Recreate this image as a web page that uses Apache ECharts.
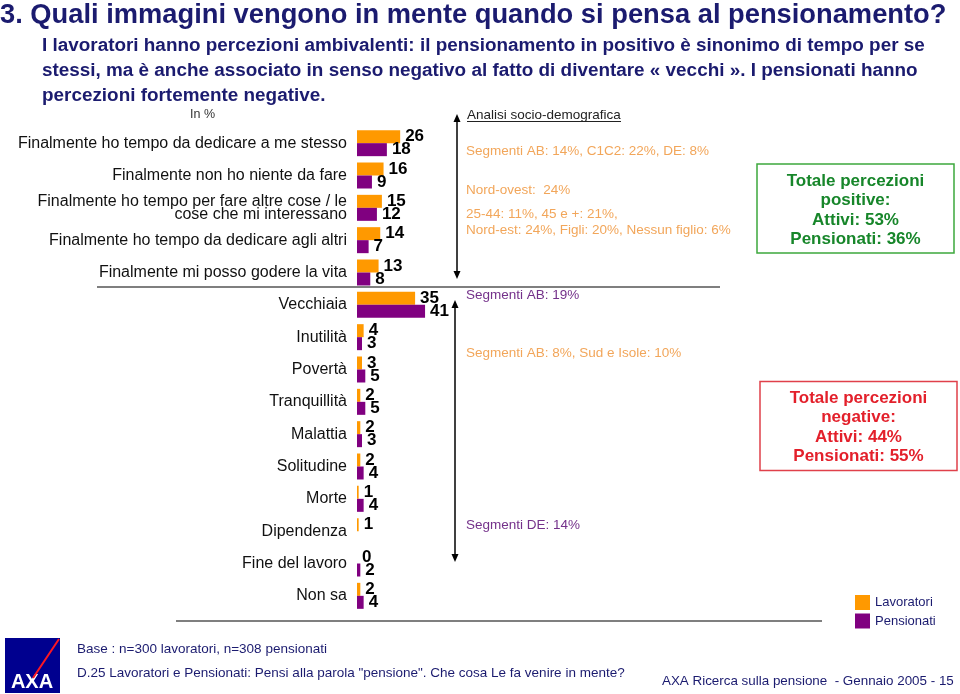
<!DOCTYPE html>
<html>
<head>
<meta charset="utf-8">
<script src="https://cdn.jsdelivr.net/npm/echarts@6/dist/echarts.min.js"></script>
<style>
html,body{margin:0;padding:0;background:#fff;}
#chart{width:960px;height:694px;}
</style>
</head>
<body>
<div id="chart"></div>
<script>
// ---- data ----
var categories = [
  'Finalmente ho tempo da dedicare a me stesso',
  'Finalmente non ho niente da fare',
  'Finalmente ho tempo per fare altre cose / le\ncose che mi interessano',
  'Finalmente ho tempo da dedicare agli altri',
  'Finalmente mi posso godere la vita',
  'Vecchiaia',
  'Inutilità',
  'Povertà',
  'Tranquillità',
  'Malattia',
  'Solitudine',
  'Morte',
  'Dipendenza',
  'Fine del lavoro',
  'Non sa'
];
var lavoratori = [26, 16, 15, 14, 13, 35, 4, 3, 2, 2, 2, 1, 1, 0, 2];
var pensionati = [18, 9, 12, 7, 8, 41, 3, 5, 5, 3, 4, 4, null, 2, 4];
var seriesNames = ['Lavoratori', 'Pensionati'];

var FONT = '"Liberation Sans", Arial, Helvetica, sans-serif';
var NAVY = '#1b1b6f';
var ORANGE = '#FF9900';
var PURPLE = '#800080';
var ORTXT = '#F2A65A';
var PUTXT = '#74318A';

function txt(text, x, y, size, color, opts) {
  opts = opts || {};
  return {
    type: 'text',
    x: x, y: y,
    style: {
      text: text,
      font: (opts.weight || 'normal') + ' ' + size + 'px ' + FONT,
      fill: color,
      textAlign: opts.align || 'left',
      textVerticalAlign: 'middle',
      lineHeight: opts.lineHeight
    },
    z: 10
  };
}
function vline(x, y1, y2) {
  return [
    {type: 'line', shape: {x1: x, y1: y1 + 6, x2: x, y2: y2 - 6}, style: {stroke: '#000', lineWidth: 1.5}},
    {type: 'polygon', shape: {points: [[x, y1], [x - 3.5, y1 + 8], [x + 3.5, y1 + 8]]}, style: {fill: '#000'}},
    {type: 'polygon', shape: {points: [[x, y2], [x - 3.5, y2 - 8], [x + 3.5, y2 - 8]]}, style: {fill: '#000'}}
  ];
}

var graphics = [];
graphics.push(txt('3. Quali immagini vengono in mente quando si pensa al pensionamento?', 0, 15, 27.3, NAVY, {weight: 'bold'}));
graphics.push(txt('I lavoratori hanno percezioni ambivalenti: il pensionamento in positivo è sinonimo di tempo per se', 42, 46, 18.9, NAVY, {weight: 'bold'}));
graphics.push(txt('stessi, ma è anche associato in senso negativo al fatto di diventare « vecchi ». I pensionati hanno', 42, 71, 18.9, NAVY, {weight: 'bold'}));
graphics.push(txt('percezioni fortemente negative.', 42, 96, 18.9, NAVY, {weight: 'bold'}));
graphics.push(txt('In %', 190, 115, 12.5, '#333'));

// separator lines
graphics.push({type: 'line', shape: {x1: 97, y1: 287, x2: 720, y2: 287}, style: {stroke: '#000', lineWidth: 1.2}});
graphics.push({type: 'line', shape: {x1: 176, y1: 621, x2: 822, y2: 621}, style: {stroke: '#000', lineWidth: 1.2}});

// arrows
graphics = graphics.concat(vline(457, 114, 279));
graphics = graphics.concat(vline(455, 300, 562));

// right texts
graphics.push(txt('Analisi socio-demografica', 467, 115, 13.5, '#222'));
graphics.push({type: 'line', shape: {x1: 467, y1: 121.5, x2: 621, y2: 121.5}, style: {stroke: '#222', lineWidth: 1}});
graphics.push(txt('Segmenti AB: 14%, C1C2: 22%, DE: 8%', 466, 151.5, 13.5, ORTXT));
graphics.push(txt('Nord-ovest:  24%', 466, 190, 13.5, ORTXT));
graphics.push(txt('25-44: 11%, 45 e +: 21%,', 466, 214, 13.5, ORTXT));
graphics.push(txt('Nord-est: 24%, Figli: 20%, Nessun figlio: 6%', 466, 230, 13.5, ORTXT));
graphics.push(txt('Segmenti AB: 19%', 466, 295, 13.5, PUTXT));
graphics.push(txt('Segmenti AB: 8%, Sud e Isole: 10%', 466, 353, 13.5, ORTXT));
graphics.push(txt('Segmenti DE: 14%', 466, 525, 13.5, PUTXT));

// boxes
graphics.push({type: 'rect', shape: {x: 757, y: 164, width: 197, height: 89}, style: {fill: 'none', stroke: '#3DA83D', lineWidth: 1.5}});
var G = '#17862A';
graphics.push(txt('Totale percezioni', 855.5, 181.5, 17, G, {weight: 'bold', align: 'center'}));
graphics.push(txt('positive:', 855.5, 200.5, 17, G, {weight: 'bold', align: 'center'}));
graphics.push(txt('Attivi: 53%', 855.5, 220, 17, G, {weight: 'bold', align: 'center'}));
graphics.push(txt('Pensionati: 36%', 855.5, 239.5, 17, G, {weight: 'bold', align: 'center'}));

graphics.push({type: 'rect', shape: {x: 760, y: 381.5, width: 197, height: 89}, style: {fill: 'none', stroke: '#E0404A', lineWidth: 1.5}});
var R = '#E3202B';
graphics.push(txt('Totale percezioni', 858.5, 398.5, 17, R, {weight: 'bold', align: 'center'}));
graphics.push(txt('negative:', 858.5, 417.5, 17, R, {weight: 'bold', align: 'center'}));
graphics.push(txt('Attivi: 44%', 858.5, 437, 17, R, {weight: 'bold', align: 'center'}));
graphics.push(txt('Pensionati: 55%', 858.5, 456, 17, R, {weight: 'bold', align: 'center'}));

// footer
graphics.push(txt('Base : n=300 lavoratori, n=308 pensionati', 77, 649, 13.5, NAVY));
graphics.push(txt('D.25 Lavoratori e Pensionati: Pensi alla parola "pensione". Che cosa Le fa venire in mente?', 77, 673, 13.5, NAVY));
graphics.push(txt('AXA Ricerca sulla pensione  - Gennaio 2005 - 15', 662, 681, 13.4, NAVY));

// AXA logo
graphics.push({type: 'rect', shape: {x: 5, y: 638, width: 55, height: 55}, style: {fill: '#00008F'}});
graphics.push({type: 'text', x: 32, y: 682, style: {text: 'AXA', font: 'bold 20px ' + FONT, fill: '#fff', textAlign: 'center', textVerticalAlign: 'middle'}, z: 11});
graphics.push({type: 'line', shape: {x1: 59, y1: 639, x2: 33, y2: 678}, style: {stroke: '#FF1721', lineWidth: 2}, z: 12});

var chart = echarts.init(document.getElementById('chart'), null, {renderer: 'canvas'});
var labelStyle = {
  show: true, position: 'right', distance: 5,
  fontFamily: FONT, fontWeight: 'bold', fontSize: 17, color: '#000'
};
chart.setOption({
  animation: false,
  backgroundColor: '#fff',
  grid: {left: 357, top: 127, width: 166, height: 485, containLabel: false, outerBoundsMode: 'none'},
  legend: {
    data: seriesNames,
    orient: 'vertical', left: 855, top: 595,
    icon: 'rect', itemWidth: 15, itemHeight: 15, itemGap: 3.5,
    textStyle: {fontFamily: FONT, fontSize: 13, color: NAVY},
    padding: 0
  },
  xAxis: {type: 'value', min: 0, max: 100, show: false},
  yAxis: {
    type: 'category', data: categories, inverse: true,
    axisLine: {show: false}, axisTick: {show: false}, splitLine: {show: false},
    axisLabel: {fontFamily: FONT, fontSize: 16, color: '#111', margin: 10, lineHeight: 13}
  },
  series: [
    {name: seriesNames[0], type: 'bar', data: lavoratori, barWidth: 13, barGap: '0%',
     itemStyle: {color: ORANGE}, label: labelStyle},
    {name: seriesNames[1], type: 'bar', data: pensionati, barWidth: 13, barGap: '0%',
     itemStyle: {color: PURPLE}, label: labelStyle}
  ],
  graphic: graphics
});
</script>
</body>
</html>
